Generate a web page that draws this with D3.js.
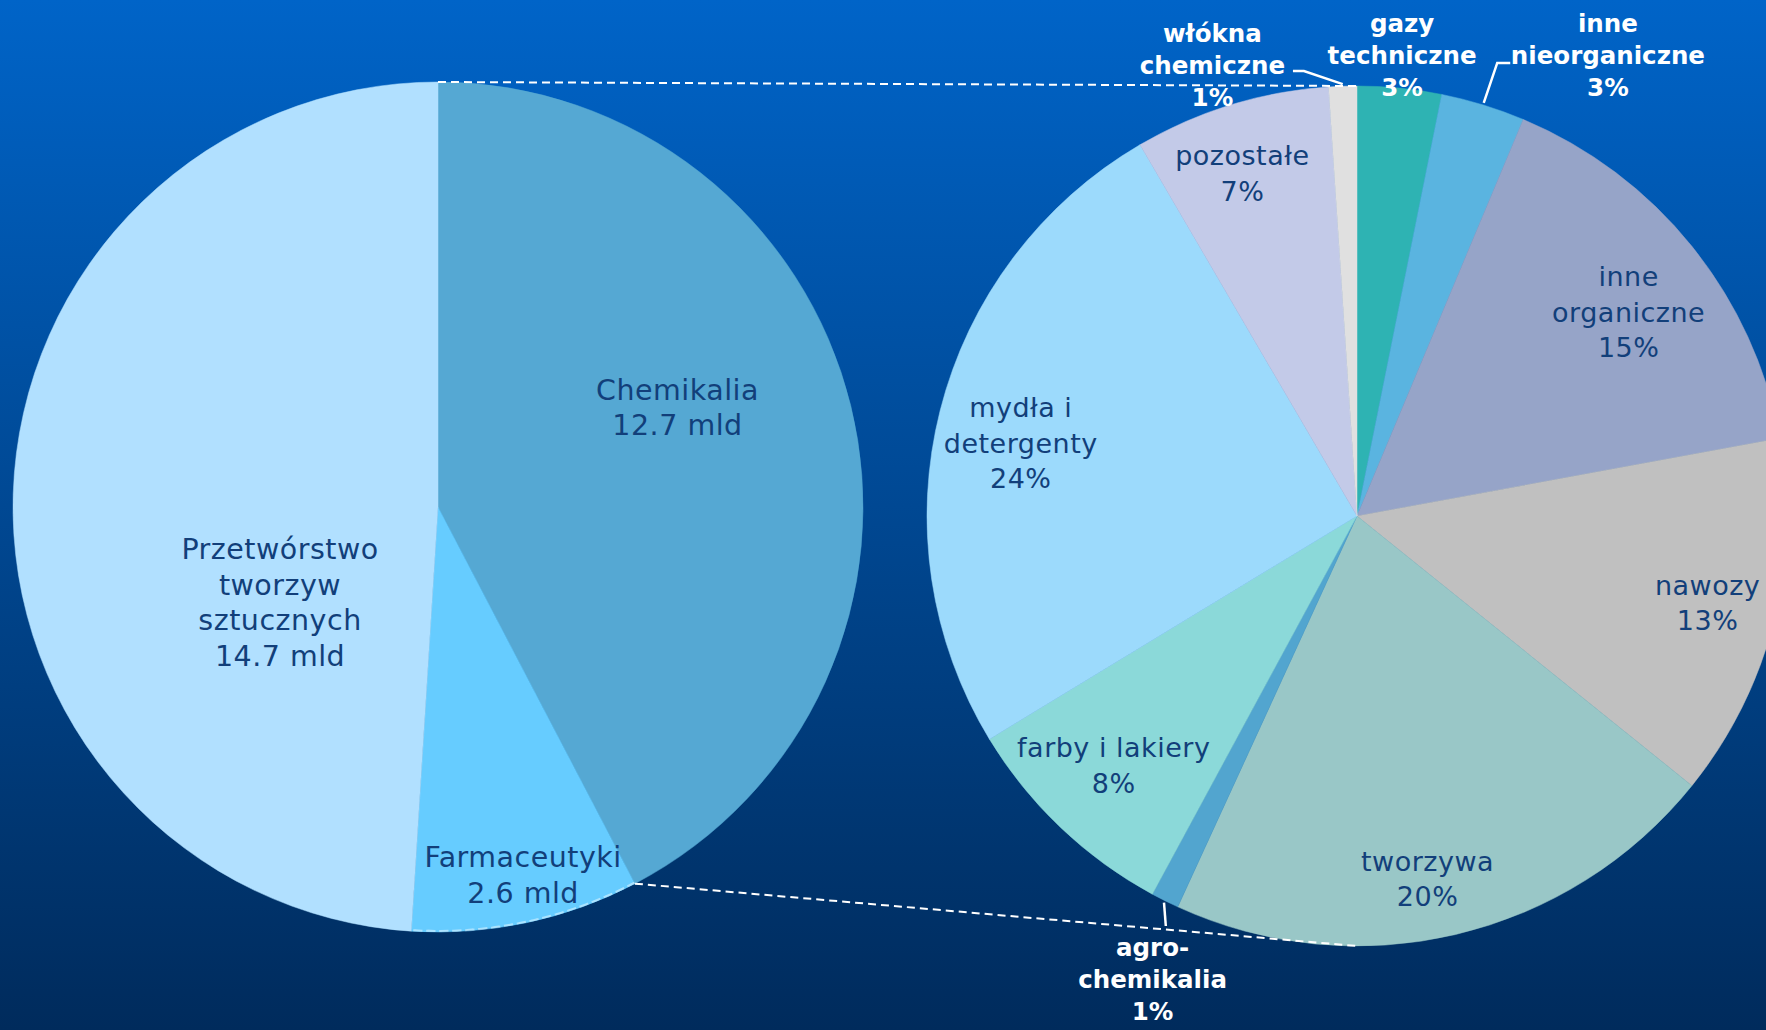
<!DOCTYPE html>
<html lang="pl">
<head>
<meta charset="UTF-8">
<title>Sprzedaż przemysłu chemicznego</title>
<script src="https://d3js.org/d3.v7.min.js"></script>
<style>
  body { margin: 0; background: #003a78; }
  svg { display: block; }
  .in-label { font: 27px "DejaVu Sans", Verdana, sans-serif; fill: #123f7a; text-anchor: middle; letter-spacing: 0.5px; }
  .in-label.big { font-size: 28.5px; }
  .out-label { font: bold 24.5px "DejaVu Sans", Verdana, sans-serif; fill: #fff; text-anchor: middle; }
  .series-line { fill: none; stroke: #fff; stroke-width: 2; stroke-dasharray: 8 5; }
  .leader { fill: none; stroke: #fff; stroke-width: 2.5; }
</style>
</head>
<body>
<svg width="1766" height="1030"></svg>
<script>
// left pie - whole sector, values in mld
const leftNames = [["Chemikalia"], ["Farmaceutyki"], ["Przetwórstwo", "tworzyw", "sztucznych"]];
const leftValues = [12.7, 2.6, 14.7];
const leftColors = ["#55a8d3", "#66ccff", "#b1e0ff"];

// right pie - split of "Chemikalia", values in %
const rightNames = [["gazy", "techniczne"], ["inne", "nieorganiczne"], ["inne", "organiczne"], ["nawozy"],
    ["tworzywa"], ["agro-", "chemikalia"], ["farby i lakiery"], ["mydła i", "detergenty"], ["pozostałe"],
    ["włókna", "chemiczne"]];
const rightValues = [3, 3, 15, 13, 20, 1, 8, 24, 7, 1];
const rightColors = ["#2eb3b3", "#5ab4e0", "#96a4c8", "#c0c0c0", "#99c7c7", "#52a5cf", "#8bd9d9",
    "#9cdafc", "#c3cae8", "#e0e0e0"];

// label placement: [angle in deg from 12 o'clock, radius factor, outside?]
const leftLabelAt = [[67.5, 0.61], [167, 0.89], [238.7, 0.435]];
const rightLabelAt = [[5.6, 1.075, true], [28.6, 1.219, true], [53.1, 0.79], [103.9, 0.84], [169, 0.86],
    [203.8, 1.178, true], [224.3, 0.81], [282.2, 0.80], [341.5, 0.84], [342.2, 1.10, true]];
// leader lines for the small slices: index -> [elbow angle, elbow radius factor, tail dx]
const rightLeaders = { 1: [17.2, 1.103, 13], 5: [205, 1.052, 0], 9: [353.2, 1.042, -11] };

const width = 1766, height = 1030;
const L = { cx: 438, cy: 507, r: 425 };
const R = { cx: 1357, cy: 516, r: 430 };

const svg = d3.select("svg").attr("width", width).attr("height", height);

const grad = svg.append("defs").append("linearGradient")
    .attr("id", "bg").attr("x1", 0).attr("y1", 0).attr("x2", 0).attr("y2", 1);
grad.append("stop").attr("offset", "0%").attr("stop-color", "#0064c8");
grad.append("stop").attr("offset", "100%").attr("stop-color", "#002b5c");
svg.append("rect").attr("width", width).attr("height", height).attr("fill", "url(#bg)");

function polar(p, deg, k) {
    const a = deg * Math.PI / 180;
    return [p.cx + p.r * k * Math.sin(a), p.cy - p.r * k * Math.cos(a)];
}

const pie = d3.pie().sort(null).value(d => d);

function drawPie(p, values, colors) {
    const arcs = pie(values);
    const arc = d3.arc().innerRadius(0).outerRadius(p.r);
    svg.append("g")
        .attr("transform", `translate(${p.cx},${p.cy})`)
        .selectAll("path")
        .data(arcs)
        .join("path")
        .attr("d", arc)
        .attr("fill", (d, i) => colors[i])
        .attr("stroke", (d, i) => colors[i])
        .attr("stroke-width", 0.5);
    return arcs;
}

function drawLabels(p, names, lines, at, cls) {
    names.forEach((name, i) => {
        const txt = name.concat([lines[i]]);
        const outside = !!at[i][2];
        const lh = outside ? 32 : 35.5;
        const [x, y] = polar(p, at[i][0], at[i][1]);
        const t = svg.append("text")
            .attr("class", outside ? "out-label" : cls)
            .attr("x", x).attr("y", y);
        txt.forEach((s, j) => {
            t.append("tspan")
                .attr("x", x)
                .attr("y", y + (j - (txt.length - 1) / 2) * lh)
                .attr("dominant-baseline", "central")
                .text(s);
        });
    });
}

const leftArcs = drawPie(L, leftValues, leftColors);
const rightArcs = drawPie(R, rightValues, rightColors);

const deg = a => a * 180 / Math.PI;

// series lines joining the "Chemikalia" slice to the second pie
const chem = leftArcs[0];
const line = d3.line();
svg.append("path").attr("class", "series-line")
    .attr("d", line([polar(L, deg(chem.startAngle), 1), polar(R, 0, 1)]));
svg.append("path").attr("class", "series-line")
    .attr("d", line([polar(L, deg(chem.endAngle), 1), polar(R, 180, 1)]));

// faint dashed rim under Farmaceutyki
const farm = leftArcs[1];
svg.append("path")
    .attr("transform", `translate(${L.cx},${L.cy})`)
    .attr("class", "series-line")
    .attr("opacity", 0.45)
    .attr("d", d3.arc().innerRadius(L.r - 1).outerRadius(L.r - 1)
        .startAngle(farm.startAngle).endAngle(farm.endAngle)());

// leader lines
Object.keys(rightLeaders).forEach(k => {
    const d = rightArcs[k];
    const [ea, ek, tail] = rightLeaders[k];
    const start = polar(R, deg((d.startAngle + d.endAngle) / 2), 1.005);
    const elbow = polar(R, ea, ek);
    const pts = [start, elbow];
    if (tail !== 0) pts.push([elbow[0] + tail, elbow[1]]);
    svg.append("path").attr("class", "leader").attr("d", line(pts));
});

drawLabels(L, leftNames, leftValues.map(v => v + " mld"), leftLabelAt, "in-label big");
drawLabels(R, rightNames, rightValues.map(v => v + "%"), rightLabelAt, "in-label");
</script>
</body>
</html>
